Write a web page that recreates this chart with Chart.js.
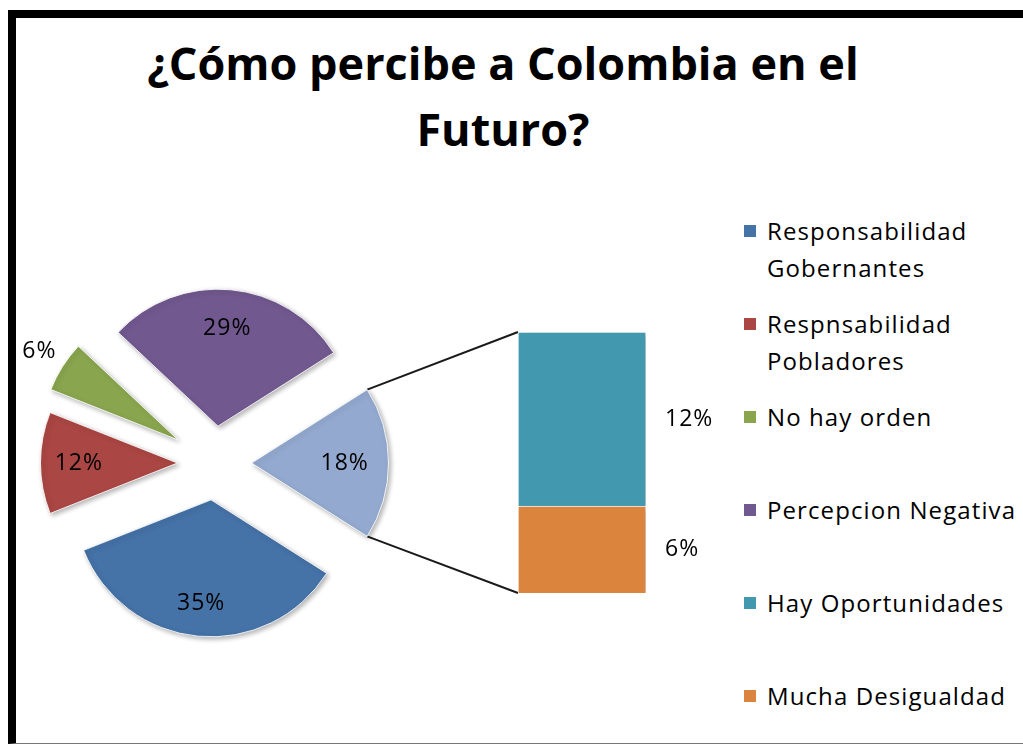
<!DOCTYPE html>
<html>
<head>
<meta charset="utf-8">
<script src="https://cdn.jsdelivr.net/npm/chart.js@4/dist/chart.umd.min.js"></script>
<style>
    body { margin: 0; background: #fff; width: 1023px; height: 745px; overflow: hidden; position: relative; }
    #frame {
        position: absolute; left: 8px; top: 10px; width: 1015px; height: 734px;
        box-sizing: border-box; border-top: 8px solid #000; border-left: 8px solid #000;
        border-bottom: 1px solid #777;
    }
    #title {
        position: absolute; left: 8px; top: 30px; width: 990px; text-align: center;
        font: bold 45px "Open Sans", sans-serif; line-height: 66px; color: #000;
    }
    #pieCanvas { position: absolute; left: 16px; top: 273px; z-index: 2; }
    #barCanvas { position: absolute; left: 300px; top: 270px; z-index: 1; }
    .legend-item {
        position: absolute; left: 767px; width: 256px;
        font: 24px "Open Sans", sans-serif; line-height: 37px; letter-spacing: 1.1px; color: #000;
    }
    .legend-item span {
        position: absolute; left: -23px; top: 13px; width: 12px; height: 12px;
    }
</style>
</head>
<body>
<div id="frame"></div>
<div id="title">¿Cómo percibe a Colombia en el<br>Futuro?</div>
<canvas id="barCanvas" width="440" height="390"></canvas>
<canvas id="pieCanvas" width="397" height="380"></canvas>
<div id="legend"></div>

<script>
// Data (percentages)
const categories = ['Responsabilidad Gobernantes', 'Respnsabilidad Pobladores', 'No hay orden',
    'Percepcion Negativa', 'Hay Oportunidades', 'Mucha Desigualdad'];
const values = [35, 12, 6, 29, 12, 6];
const colors = ['#4572A7', '#AA4643', '#89A54E', '#71588F', '#4198AF', '#DB843D'];
const otherColor = '#93A9CF';
const splitIndex = 4; // points from here go into the bar

// Styling for the exploded pie
const explode = [37, 37, 43, 37, 37];
const labelDist = [0.76, 0.72, 1.2, 0.72, 0.68];

const pieValues = values.slice(0, splitIndex);
const barValues = values.slice(splitIndex);
const otherTotal = barValues.reduce((a, b) => a + b, 0);

// Legend (HTML)
const legendEl = document.getElementById('legend');
categories.forEach((name, i) => {
    const div = document.createElement('div');
    div.className = 'legend-item';
    div.style.top = (211.5 + i * 93) + 'px';
    div.innerHTML = '<span style="background:' + colors[i] + '"></span>' + name;
    legendEl.appendChild(div);
});

function setShadow(ctx) {
    ctx.shadowColor = 'rgba(0,0,0,0.3)';
    ctx.shadowBlur = 5;
    ctx.shadowOffsetX = 2;
    ctx.shadowOffsetY = 2;
}

const explodePlugin = {
    id: 'explode',
    beforeDatasetDraw(chart, args) {
        const ctx = chart.ctx;
        args.meta.data.forEach((arc, i) => {
            const mid = (arc.startAngle + arc.endAngle) / 2;
            ctx.save();
            ctx.translate(Math.cos(mid) * explode[i], Math.sin(mid) * explode[i]);
            setShadow(ctx);
            arc.draw(ctx);
            ctx.restore();
        });
        return false;
    },
    afterDatasetsDraw(chart) {
        const ctx = chart.ctx;
        const meta = chart.getDatasetMeta(0);
        const data = chart.data.datasets[0].data;
        ctx.save();
        ctx.font = '23px "Open Sans", sans-serif';
        ctx.letterSpacing = '1px';
        ctx.fillStyle = '#000';
        ctx.textAlign = 'center';
        ctx.textBaseline = 'middle';
        meta.data.forEach((arc, i) => {
            const mid = (arc.startAngle + arc.endAngle) / 2;
            const r = explode[i] + arc.outerRadius * labelDist[i];
            ctx.fillText(data[i] + '%', arc.x + Math.cos(mid) * r, arc.y + Math.sin(mid) * r);
        });
        ctx.restore();
    }
};

const pieChart = new Chart(document.getElementById('pieCanvas'), {
    type: 'pie',
    data: {
        labels: categories.slice(0, splitIndex).concat(['Otros']),
        datasets: [{
            data: pieValues.concat([otherTotal]),
            backgroundColor: colors.slice(0, splitIndex).concat([otherColor]),
            borderColor: 'rgba(255,255,255,0.85)',
            borderWidth: 1
        }]
    },
    options: {
        responsive: false,
        animation: false,
        radius: 137,
        rotation: 122.4,
        plugins: { legend: { display: false }, tooltip: { enabled: false } }
    },
    plugins: [explodePlugin]
});

const connectorPlugin = {
    id: 'connector',
    beforeDatasetsDraw(chart) {
        const ctx = chart.ctx;
        const pieCanvas = pieChart.canvas;
        const dx = pieCanvas.offsetLeft - chart.canvas.offsetLeft;
        const dy = pieCanvas.offsetTop - chart.canvas.offsetTop;
        const arc = pieChart.getDatasetMeta(0).data[splitIndex];
        const mid = (arc.startAngle + arc.endAngle) / 2;
        const ax = arc.x + Math.cos(mid) * explode[splitIndex] + dx;
        const ay = arc.y + Math.sin(mid) * explode[splitIndex] + dy;
        const r = arc.outerRadius;
        const area = chart.chartArea;
        ctx.save();
        ctx.strokeStyle = '#1a1a1a';
        ctx.lineWidth = 2;
        ctx.beginPath();
        ctx.moveTo(ax + Math.cos(arc.startAngle) * r, ay + Math.sin(arc.startAngle) * r);
        ctx.lineTo(area.left, area.top);
        ctx.moveTo(ax + Math.cos(arc.endAngle) * r, ay + Math.sin(arc.endAngle) * r);
        ctx.lineTo(area.left, area.bottom);
        ctx.stroke();
        ctx.restore();
    },
    beforeDatasetDraw(chart) {
        chart.ctx.save();
        setShadow(chart.ctx);
    },
    afterDatasetDraw(chart) {
        chart.ctx.restore();
    },
    afterDatasetsDraw(chart) {
        const ctx = chart.ctx;
        ctx.save();
        ctx.font = '23px "Open Sans", sans-serif';
        ctx.letterSpacing = '1px';
        ctx.fillStyle = '#000';
        ctx.textAlign = 'left';
        ctx.textBaseline = 'middle';
        chart.data.datasets.forEach((ds, i) => {
            const bar = chart.getDatasetMeta(i).data[0];
            ctx.fillText(ds.data[0] + '%', bar.x + bar.width / 2 + 19, (bar.y + bar.base) / 2);
        });
        ctx.restore();
    }
};

// stacked bar: first dataset sits at the bottom
new Chart(document.getElementById('barCanvas'), {
    type: 'bar',
    data: {
        labels: [''],
        datasets: [{
            label: categories[5],
            data: [barValues[1]],
            backgroundColor: colors[5]
        }, {
            label: categories[4],
            data: [barValues[0]],
            backgroundColor: colors[4]
        }].map(d => Object.assign(d, {
            borderColor: 'rgba(255,255,255,0.85)',
            borderWidth: 1,
            barPercentage: 1,
            categoryPercentage: 1
        }))
    },
    options: {
        responsive: false,
        animation: false,
        layout: { padding: { left: 218, right: 94, top: 62, bottom: 67 } },
        scales: {
            x: { stacked: true, display: false },
            y: { stacked: true, display: false, min: 0, max: otherTotal }
        },
        plugins: { legend: { display: false }, tooltip: { enabled: false } }
    },
    plugins: [connectorPlugin]
});
</script>
</body>
</html>
